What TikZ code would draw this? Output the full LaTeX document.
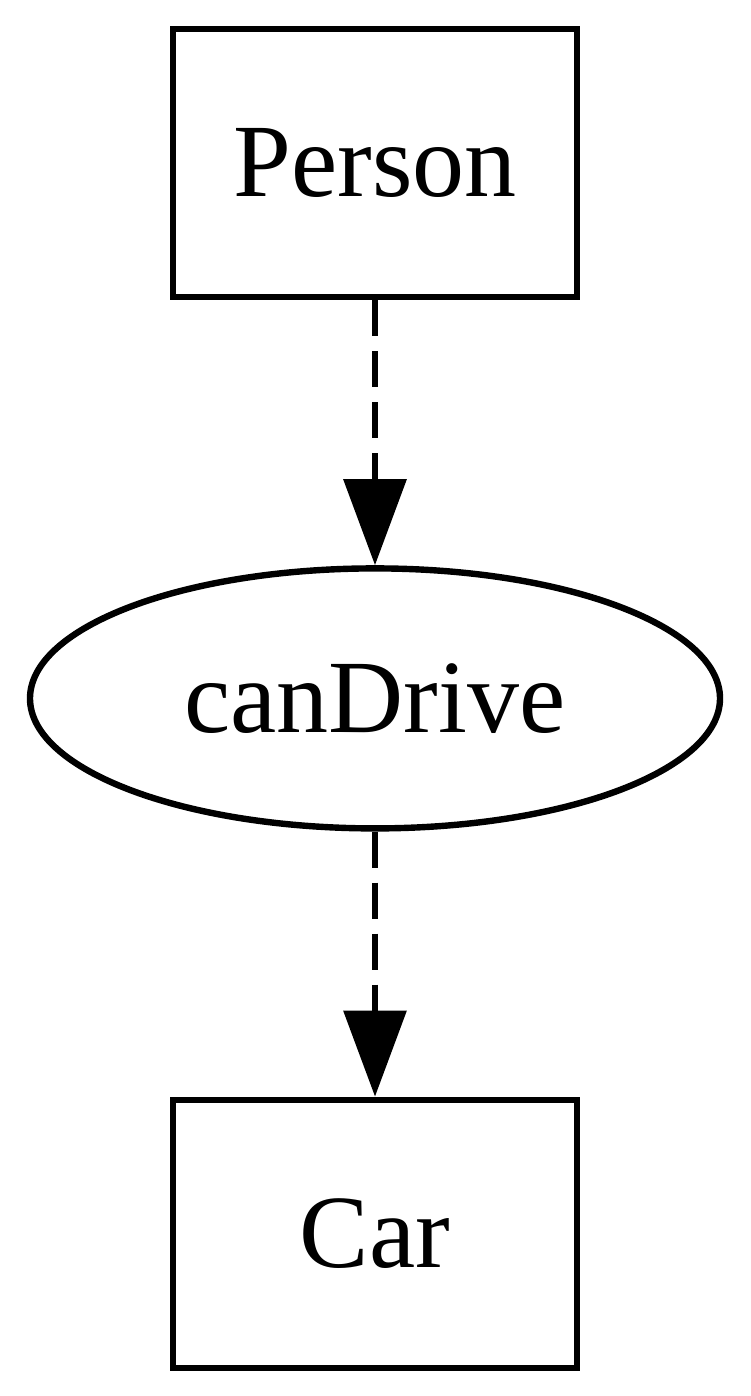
\documentclass[tikz,border=0pt]{standalone}
\usepackage{fontspec}
\setmainfont{Liberation Serif}
\usepackage{tikz}
\usetikzlibrary{arrows.meta,positioning,shapes.geometric}

\begin{document}
\begin{tikzpicture}[
  x=0.5pt, y=-0.5pt,
  node distance=132.5pt,
  every node/.style={font=\fontsize{52}{62}\selectfont},
  box/.style={draw, line width=3.2pt, rectangle,
    minimum width=202pt, minimum height=134pt},
  relation/.style={draw, line width=3.2pt, ellipse, inner sep=0pt,
    minimum width=345pt, minimum height=130pt},
  arrow/.style={-{Triangle[length=43pt, width=31pt]}, line width=3.2pt,
    dash pattern=on 18pt off 7.5pt}
]
\useasboundingbox (0,0) rectangle (750,1396);
\node[box] (person) at (375,163) {Person};
\node[relation, below=of person] (candrive) {canDrive};
\node[box, below=of candrive] (car) {Car};

\draw[arrow] (person) -- (candrive);
\draw[arrow] (candrive) -- (car);
\end{tikzpicture}
\end{document}
